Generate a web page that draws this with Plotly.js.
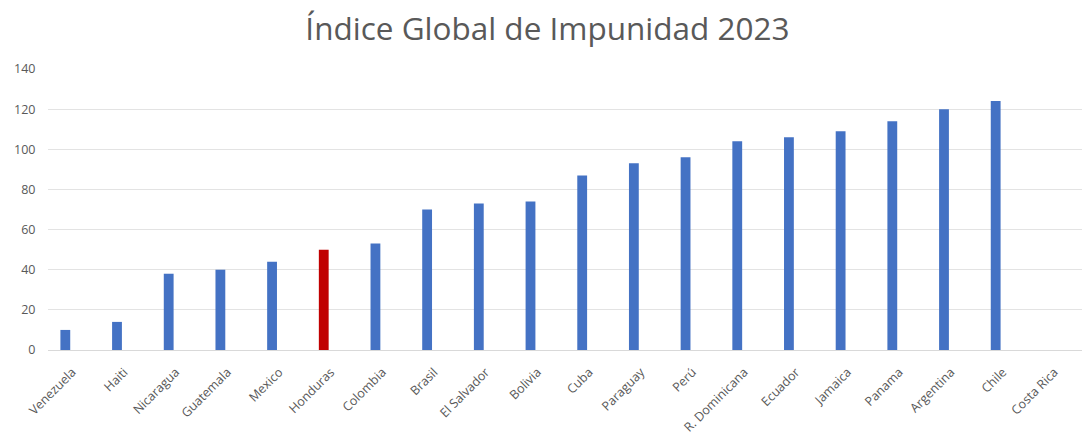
<!DOCTYPE html>
<html>
<head>
<meta charset="utf-8">
<script src="https://cdn.plot.ly/plotly-3.0.1.min.js"></script>
<style>html,body{margin:0;padding:0;background:#fff;}#chart{width:1082px;height:447px;}</style>
</head>
<body>
<div id="chart"></div>
<script>
const countries = ["Venezuela","Haiti","Nicaragua","Guatemala","Mexico","Honduras","Colombia","Brasil","El Salvador","Bolivia","Cuba","Paraguay","Perú","R. Dominicana","Ecuador","Jamaica","Panama","Argentina","Chile","Costa Rica"];
const values = [10, 14, 38, 40, 44, 50, 53, 70, 73, 74, 87, 93, 96, 104, 106, 109, 114, 120, 124, 0];
const highlight = "Honduras";
const baseColor = "#4472C4";
const highlightColor = "#C00000";
const yTicks = [0, 20, 40, 60, 80, 100, 120, 140];

const colors = countries.map(c => c === highlight ? highlightColor : baseColor);

const trace = {
  type: "bar",
  x: countries.map((c, i) => i),
  y: values,
  marker: {color: colors},
  hoverinfo: "x+y"
};

const layout = {
  width: 1082,
  height: 447,
  margin: {l: 48, r: 0, t: 69, b: 97},
  paper_bgcolor: "#ffffff",
  plot_bgcolor: "#ffffff",
  bargap: 0.81,
  showlegend: false,
  title: {
    text: "Índice Global de Impunidad 2023",
    font: {family: "Open Sans, sans-serif", size: 31.5, color: "#595959"},
    x: 0.506, xanchor: "center",
    y: 0.935, yanchor: "middle"
  },
  xaxis: {
    type: "linear",
    range: [-0.335, 19.67],
    tickmode: "array",
    tickvals: countries.map((c, i) => i),
    ticktext: countries,
    tickangle: -45,
    tickfont: {family: "Open Sans, sans-serif", size: 12.5, color: "#595959"},
    showgrid: false,
    zeroline: false,
    showline: false,
    ticks: "outside",
    ticklen: 9,
    tickcolor: "rgba(0,0,0,0)",
    ticklabelshift: 7
  },
  yaxis: {
    range: [0, 140],
    tickmode: "array",
    tickvals: yTicks,
    ticktext: yTicks.map(String),
    tickfont: {family: "Open Sans, sans-serif", size: 12.5, color: "#595959"},
    showgrid: true,
    gridcolor: "#e3e3e3",
    gridwidth: 1,
    zeroline: true,
    zerolinecolor: "#d9d9d9",
    zerolinewidth: 1,
    ticks: "outside",
    ticklen: 9,
    tickcolor: "rgba(0,0,0,0)"
  }
};

Plotly.newPlot("chart", [trace], layout, {displayModeBar: false, staticPlot: true});
</script>
</body>
</html>
